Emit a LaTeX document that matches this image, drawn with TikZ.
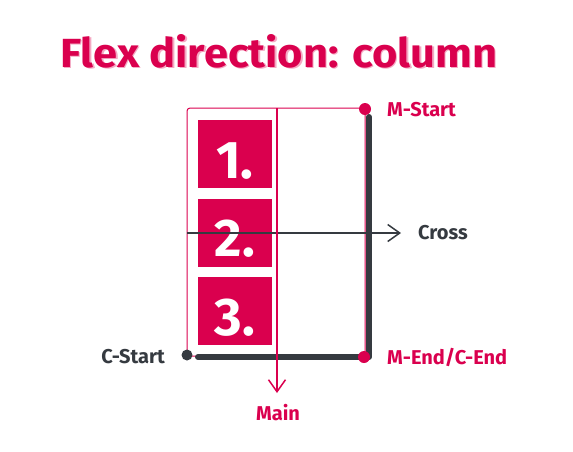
\documentclass[tikz,border=0pt]{standalone}
\usepackage{fontspec}
\setmainfont{Fira Sans}
\usetikzlibrary{arrows.meta}
\definecolor{flexred}{HTML}{DA004E}
\definecolor{flexdark}{HTML}{353A40}
\definecolor{flexshadow}{HTML}{F4A9C3}

\tikzset{
	item/.style={fill=flexred, minimum width=74pt, minimum height=68pt, inner sep=0pt,
		text=white, font=\fontsize{53}{53}\selectfont\bfseries, text height=48pt, text depth=0pt},
	dot/.style={circle, fill=#1, minimum size=12pt, inner sep=0pt},
	lbl/.style={font=\fontsize{20}{20}\selectfont\bfseries, inner sep=0pt},
	axis/.style={line width=1.5pt, -{Straight Barb[length=12pt,width=17pt]}}
}

\begin{document}
\begin{tikzpicture}[x=1pt, y=-1pt]
	\useasboundingbox (0,0) rectangle (573,451);
	%% Titel
	\node[anchor=base west, inner sep=0pt, text=flexshadow] (titleshadow) at (61.5,68.5) {\resizebox{437pt}{33pt}{\bfseries Flex direction: column}};
	\node[anchor=base west, inner sep=0pt, text=flexred] (title) at (60,67) {\resizebox{437pt}{33pt}{\bfseries Flex direction: column}};

	%% Container
	\draw[flexred, line width=1pt, rounded corners=3pt] (187,108) rectangle (365,356);
	\node[item] (item1) at (235,154) {1.};
	\node[item] (item2) at (235,232.5) {2.};
	\node[item] (item3) at (235,311) {3.};
	%%%%%%%%%%%%%%%%

	%% Achsen
	\coordinate (crossstart) at (187,233);
	\coordinate (crossend) at (401,233);
	\coordinate (maintop) at (277,108);
	\coordinate (mainend) at (277,393);
	\draw[flexdark, line width=6pt, line cap=round, line join=round] (369,117) -- (369,357) -- (198,357);
	\draw[axis, flexdark] (crossstart) -- (crossend);
	\draw[axis, flexred] (maintop) -- (mainend);

	%% Punkte
	\node[dot=flexred] (mstart) at (365,109) {};
	\node[dot=flexred] (mend) at (364,357) {};
	\node[dot=flexdark, minimum size=11pt] (cstart) at (187,355) {};

	%% Beschriftung
	\node[lbl, anchor=west, text=flexred] (mstartlbl) at (387,110) {M-Start};
	\node[lbl, anchor=west, text=flexdark] (crosslbl) at (418,233) {Cross};
	\node[lbl, anchor=west, text=flexred] (mendlbl) at (387,357) {M-End/C-End};
	\node[lbl, anchor=east, text=flexdark] (cstartlbl) at (165,357) {C-Start};
	\node[lbl, text=flexred] (mainlbl) at (278,413) {Main};
\end{tikzpicture}
\end{document}
